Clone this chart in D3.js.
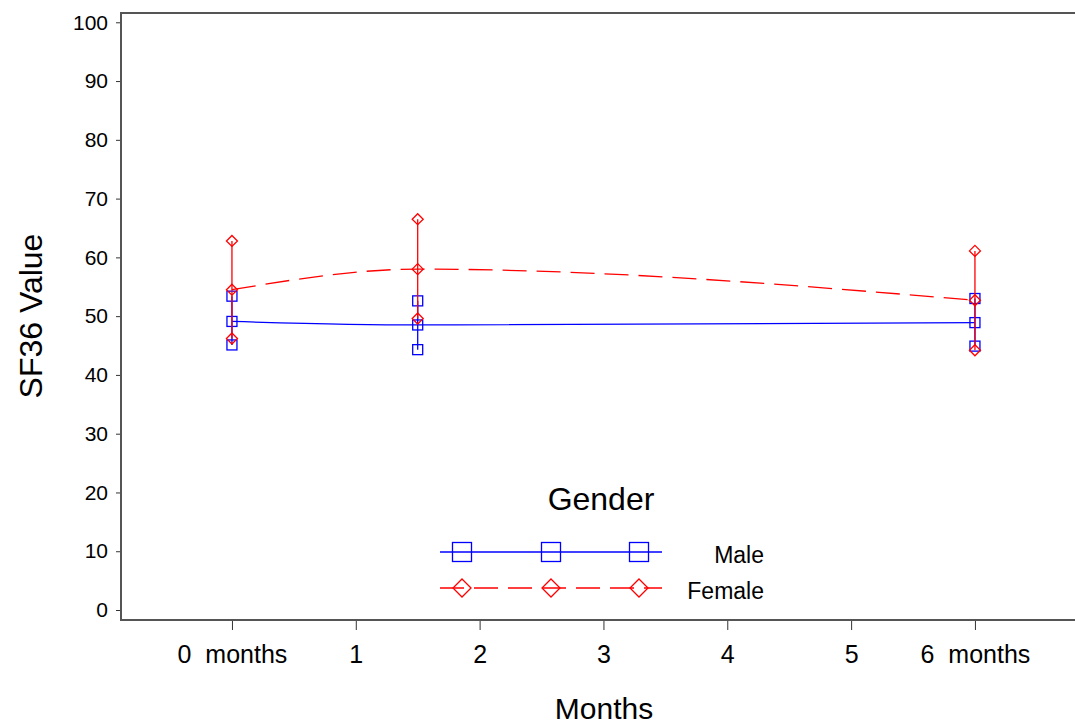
<!DOCTYPE html>
<html>
<head>
<meta charset="utf-8">
<script src="https://cdn.jsdelivr.net/npm/d3@7"></script>
<style>
  body { margin: 0; background: #fff; }
  svg text { font-family: "Liberation Sans", Arial, sans-serif; fill: #000; white-space: pre; }
</style>
</head>
<body>
<div id="chart"></div>
<script>
var months = [0, 1.5, 6];
var maleMean = [49.1, 48.5, 48.9];
var maleUpper = [53.4, 52.6, 53.0];
var maleLower = [45.1, 44.3, 44.9];
var femaleMean = [54.5, 58.0, 52.7];
var femaleUpper = [62.8, 66.5, 61.1];
var femaleLower = [46.2, 49.6, 44.2];
var xTicks = [0, 1, 2, 3, 4, 5, 6];
var xTickLabels = ["0  months", "1", "2", "3", "4", "5", "6  months"];
var yTicks = [0, 10, 20, 30, 40, 50, 60, 70, 80, 90, 100];

function init(){
	var w = 1075;
	var h = 727;
	var left = 121, top = 13, bottom = 620;

	var xScale = d3.scaleLinear()
					.domain([-0.896, 6.808])
					.range([left, w]);
	var yScale = d3.scaleLinear()
					.domain([-1.70, 101.58])
					.range([bottom, top]);

	var svg = d3.select("#chart")
				.append("svg")
				.attr("width", w)
				.attr("height", h);

	// y axis
	var yAxis = d3.axisLeft(yScale)
					.tickValues(yTicks)
					.tickSize(5)
					.tickPadding(8);
	var gy = svg.append("g")
				.attr("transform", "translate(" + left + ",0)")
				.call(yAxis);
	gy.select(".domain").remove();
	gy.selectAll("line").attr("stroke", "#333");
	gy.selectAll("text").attr("font-size", 21).attr("font-family", "Liberation Sans");

	// x axis
	var xAxis = d3.axisBottom(xScale)
					.tickValues(xTicks)
					.tickFormat(function(d, i){ return xTickLabels[i]; })
					.tickSize(10)
					.tickPadding(15);
	var gx = svg.append("g")
				.attr("transform", "translate(0," + bottom + ")")
				.call(xAxis);
	gx.select(".domain").remove();
	gx.selectAll("line").attr("stroke", "#333");
	gx.selectAll("text").attr("font-size", 25).attr("font-family", "Liberation Sans");

	// frame (left, top, bottom)
	svg.append("path")
		.attr("d", "M" + w + "," + top + "H" + left + "V" + bottom + "H" + w)
		.attr("fill", "none")
		.attr("stroke", "#555")
		.attr("stroke-width", 2);

	var series = [
		{name: "Male", color: "#0000ff", mean: maleMean, up: maleUpper, lo: maleLower, dash: null, symbol: "square"},
		{name: "Female", color: "#ff0000", mean: femaleMean, up: femaleUpper, lo: femaleLower, dash: "24,10", symbol: "diamond"}
	];

	function drawSymbol(g, type, cx, cy, size, color){
		if(type == "square"){
			g.append("rect")
				.attr("x", cx - size / 2)
				.attr("y", cy - size / 2)
				.attr("width", size)
				.attr("height", size)
				.attr("fill", "none")
				.attr("stroke", color)
				.attr("stroke-width", 1.3);
		}else{
			var r = size / 2;
			g.append("path")
				.attr("d", "M" + cx + "," + (cy - r) + "L" + (cx + r) + "," + cy + "L" + cx + "," + (cy + r) + "L" + (cx - r) + "," + cy + "Z")
				.attr("fill", "none")
				.attr("stroke", color)
				.attr("stroke-width", 1.3);
		}
	}

	var line = d3.line()
				.x(function(d){ return xScale(d[0]); })
				.y(function(d){ return yScale(d[1]); })
				.curve(d3.curveMonotoneX);

	series.forEach(function(s){
		var g = svg.append("g");
		var pts = months.map(function(m, i){ return [m, s.mean[i]]; });
		g.append("path")
			.attr("d", line(pts))
			.attr("fill", "none")
			.attr("stroke", s.color)
			.attr("stroke-width", 1.3)
			.attr("stroke-dasharray", s.dash);

		months.forEach(function(m, i){
			g.append("line")
				.attr("x1", xScale(m))
				.attr("x2", xScale(m))
				.attr("y1", yScale(s.lo[i]))
				.attr("y2", yScale(s.up[i]))
				.attr("stroke", s.color)
				.attr("stroke-width", 1.3);
			[s.lo[i], s.mean[i], s.up[i]].forEach(function(v){
				drawSymbol(g, s.symbol, xScale(m), yScale(v), s.symbol == "square" ? 10 : 11, s.color);
			});
		});
	});

	// legend
	svg.append("text")
		.attr("x", 601)
		.attr("y", 510)
		.attr("text-anchor", "middle")
		.attr("font-size", 32)
		.text("Gender");

	var legY = [552, 588];
	var legSym = [462, 551, 639];
	series.forEach(function(s, i){
		svg.append("line")
			.attr("x1", 440)
			.attr("x2", 662)
			.attr("y1", legY[i])
			.attr("y2", legY[i])
			.attr("stroke", s.color)
			.attr("stroke-width", 1.3)
			.attr("stroke-dasharray", s.dash);
		legSym.forEach(function(cx){
			drawSymbol(svg, s.symbol, cx, legY[i], s.symbol == "square" ? 19 : 18, s.color);
		});
		svg.append("text")
			.attr("x", 764)
			.attr("y", legY[i] + 11)
			.attr("text-anchor", "end")
			.attr("font-size", 23)
			.text(s.name);
	});

	// axis titles
	svg.append("text")
		.attr("transform", "translate(42,316) rotate(-90)")
		.attr("text-anchor", "middle")
		.attr("font-size", 32)
		.text("SF36 Value");

	svg.append("text")
		.attr("x", 604)
		.attr("y", 719)
		.attr("text-anchor", "middle")
		.attr("font-size", 30)
		.text("Months");
}

window.onload = init;
</script>
</body>
</html>
